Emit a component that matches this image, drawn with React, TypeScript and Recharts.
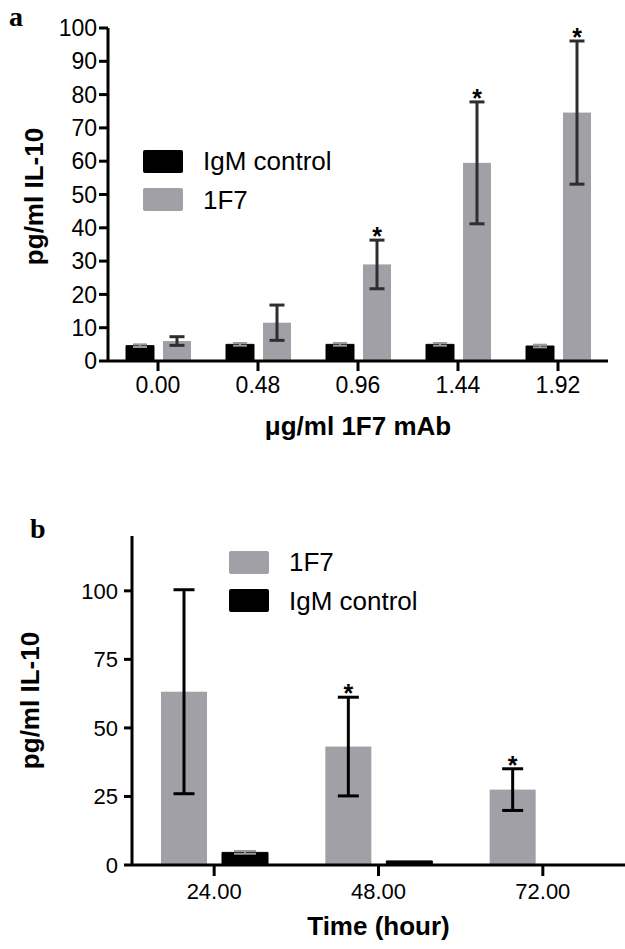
import React from 'react';
import { BarChart, Bar, XAxis, YAxis, ErrorBar, Legend, Label } from 'recharts';

// ---- Panel a data ----
const doseLabels = ['0.00', '0.48', '0.96', '1.44', '1.92'];
const igmA = [4.6, 5.0, 5.0, 5.0, 4.5];
const igmAErr = [0.4, 0.4, 0.4, 0.4, 0.4];
const f7A = [6.0, 11.5, 29.0, 59.5, 74.6];
const f7AErr = [1.3, 5.3, 7.3, 18.3, 21.5];
const f7ASig = [false, false, true, true, true];
const yTicksA = [0, 10, 20, 30, 40, 50, 60, 70, 80, 90, 100];

// ---- Panel b data ----
const timeLabels = ['24.00', '48.00', '72.00'];
const f7B = [63.2, 43.2, 27.5];
const f7BErr = [37.2, 18.0, 7.6];
const f7BSig = [false, true, true];
const igmB = [4.6, 1.5, 0];
const igmBErr = [0.5, null, null];
const yTicksB = [0, 25, 50, 75, 100];

const GRAY = '#a0a0a6';
const FONT = "Arial, 'Liberation Sans', Helvetica, sans-serif";

const dataA = doseLabels.map((d, i) => ({
  cat: d, igm: igmA[i], igmErr: igmAErr[i], f7: f7A[i], f7Err: f7AErr[i], sig: f7ASig[i],
}));
const dataB = timeLabels.map((d, i) => ({
  cat: d, igm: igmB[i], igmErr: igmBErr[i], f7: f7B[i], f7Err: f7BErr[i], sig: f7BSig[i],
}));

const StarBar = (props: any) => {
  const { x, y, width, height, fill, payload } = props;
  const v = payload.f7;
  const e = payload.f7Err;
  let star = null;
  if (payload.sig && v > 0 && height > 0) {
    const ppu = height / v;
    const top = y + height - (v + e) * ppu;
    star = (
      <text x={x + width / 2} y={top + 5} textAnchor="middle" fontSize={25} fontWeight="bold" fontFamily={FONT} fill="#000">
        *
      </text>
    );
  }
  return (
    <g>
      <rect x={x} y={y} width={width} height={Math.max(0, height)} fill={fill} />
      {star}
    </g>
  );
};

const LegendBox = ({ items }: { items: { label: string; color: string }[] }) => (
  <div style={{ fontFamily: FONT }}>
    {items.map((it) => (
      <div key={it.label} style={{ display: 'flex', alignItems: 'center', height: 38.5 }}>
        <div style={{ width: 40, height: 23, background: it.color, borderRadius: 2 }} />
        <span style={{ marginLeft: 20, fontSize: 26, color: '#000', lineHeight: '26px' }}>{it.label}</span>
      </div>
    ))}
  </div>
);

const tickStyle = { fill: '#000', fontSize: 23, fontFamily: FONT };

const yTitle = (cx: number, cy: number, letter: string, lx: number, ly: number) => (props: any) => {
  const vb = props.viewBox || {};
  const x = (vb.x || 0) + cx;
  const y = (vb.y || 0) + (vb.height || 0) / 2 + cy;
  return (
    <g>
      <text x={x} y={y} transform={`rotate(-90 ${x} ${y})`} textAnchor="middle" dominantBaseline="central"
        fontSize={26} fontWeight="bold" fontFamily={FONT} fill="#000">
        pg/ml IL-10
      </text>
      <text x={lx} y={ly} fontSize={28} fontWeight="bold" fontFamily="'Liberation Serif', 'Times New Roman', serif" fill="#000">
        {letter}
      </text>
    </g>
  );
};

const xTitle = (text: string, dy: number) => (props: any) => {
  const vb = props.viewBox || {};
  const x = (vb.x || 0) + (vb.width || 0) / 2;
  const y = (vb.y || 0) + dy;
  return (
    <text x={x} y={y} textAnchor="middle" fontSize={26} fontWeight="bold" fontFamily={FONT} fill="#000">
      {text}
    </text>
  );
};

export default function App() {
  return (
    <div style={{ position: 'absolute', left: 0, top: 0, width: 625, height: 949, background: '#fff' }}>
      <div style={{ position: 'absolute', left: 0, top: 0 }}>
        <BarChart width={625} height={460} data={dataA} margin={{ top: 28, right: 17, bottom: 0, left: 0 }}
          barSize={28} barGap={9}>
          <XAxis dataKey="cat" height={99} tick={tickStyle} tickSize={10} tickMargin={6}
            axisLine={{ stroke: '#000', strokeWidth: 3 }} tickLine={{ stroke: '#000', strokeWidth: 3 }}>
            <Label content={xTitle('\u03bcg/ml 1F7 mAb', 74)} />
          </XAxis>
          <YAxis width={108} domain={[0, 100]} ticks={yTicksA} interval={0} tick={tickStyle} tickSize={9} tickMargin={2}
            axisLine={{ stroke: '#000', strokeWidth: 3 }} tickLine={{ stroke: '#000', strokeWidth: 3 }}>
            <Label content={yTitle(34, 2, 'a', 9, 26)} />
          </YAxis>
          <Legend layout="vertical" align="center" verticalAlign="middle"
            wrapperStyle={{ left: 143, top: 142, width: 'auto', height: 'auto' }}
            content={() => <LegendBox items={[{ label: 'IgM control', color: '#000' }, { label: '1F7', color: GRAY }]} />} />
          <Bar dataKey="igm" name="IgM control" fill="#000" stroke="#000" strokeWidth={1} isAnimationActive={false}>
            <ErrorBar dataKey="igmErr" width={7} stroke="#9a9a9a" strokeWidth={2} />
          </Bar>
          <Bar dataKey="f7" name="1F7" fill={GRAY} shape={StarBar} isAnimationActive={false}>
            <ErrorBar dataKey="f7Err" width={7.5} stroke="#2e2e2e" strokeWidth={3} />
          </Bar>
        </BarChart>
      </div>
      <div style={{ position: 'absolute', left: 0, top: 470 }}>
        <BarChart width={625} height={479} data={dataB} margin={{ top: 66, right: 0, bottom: 0, left: 0 }}
          barSize={46} barGap={15}>
          <XAxis dataKey="cat" height={84} tick={{ ...tickStyle, fontSize: 22 }} tickSize={11} tickMargin={7}
            axisLine={{ stroke: '#000', strokeWidth: 3 }} tickLine={{ stroke: '#000', strokeWidth: 3 }}>
            <Label content={xTitle('Time (hour)', 70)} />
          </XAxis>
          <YAxis width={132} domain={[0, 120]} ticks={yTicksB} interval={0} tick={{ ...tickStyle, fontSize: 22 }}
            tickSize={8} tickMargin={6}
            axisLine={{ stroke: '#000', strokeWidth: 3 }} tickLine={{ stroke: '#000', strokeWidth: 3 }}>
            <Label content={yTitle(30, 0, 'b', 30, 68)} />
          </YAxis>
          <Legend layout="vertical" align="center" verticalAlign="middle"
            wrapperStyle={{ left: 229, top: 73, width: 'auto', height: 'auto' }}
            content={() => <LegendBox items={[{ label: '1F7', color: GRAY }, { label: 'IgM control', color: '#000' }]} />} />
          <Bar dataKey="f7" name="1F7" fill={GRAY} shape={StarBar} isAnimationActive={false}>
            <ErrorBar dataKey="f7Err" width={10.5} stroke="#000" strokeWidth={3} />
          </Bar>
          <Bar dataKey="igm" name="IgM control" fill="#000" stroke="#000" strokeWidth={1} isAnimationActive={false}>
            <ErrorBar dataKey="igmErr" width={11} stroke="#9a9a9a" strokeWidth={2} />
          </Bar>
        </BarChart>
      </div>
    </div>
  );
}
